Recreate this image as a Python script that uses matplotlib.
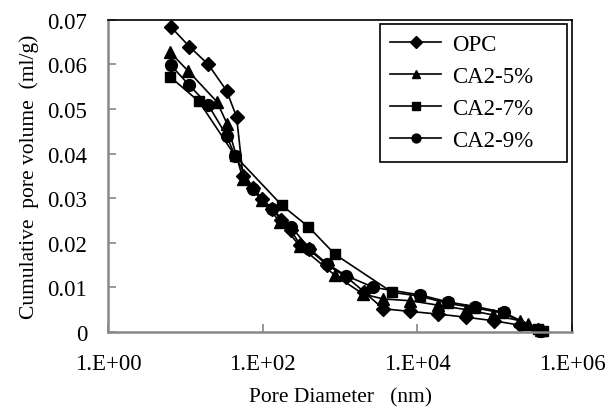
import math
import matplotlib
matplotlib.use("Agg")
import matplotlib.pyplot as plt
from matplotlib.ticker import FuncFormatter, FixedLocator, NullLocator

# pore diameter (nm) and cumulative pore volume (ml/g)
opc_d = [6.45, 11.3, 19.8, 34.2, 46, 55.7, 75.9, 98, 131, 173, 233, 304, 397,
         680, 1200, 2040, 3600, 8000, 18500, 42600, 97000, 213000, 360000]
opc_v = [0.0685, 0.0640, 0.0600, 0.0541, 0.0482, 0.0350, 0.0322, 0.0298, 0.0276,
         0.0252, 0.0228, 0.0195, 0.0185, 0.0150, 0.0124, 0.0090, 0.0052, 0.0046,
         0.0040, 0.0033, 0.0025, 0.0015, 0.0005]

ca5_d = [6.3, 10.8, 25.7, 34.6, 55.7, 98, 167, 304, 860, 1990, 3600, 8045,
         18500, 42600, 95000, 213000, 270000, 390000]
ca5_v = [0.0628, 0.0586, 0.0516, 0.0467, 0.0343, 0.0295, 0.0247, 0.0192, 0.0127,
         0.0085, 0.0074, 0.0070, 0.0060, 0.0050, 0.0038, 0.0025, 0.0018, 0.0005]

ca7_d = [6.3, 15, 44, 177, 390, 860, 4700, 10800, 24900, 55700, 128000,
         360000, 420000]
ca7_v = [0.0573, 0.0517, 0.0395, 0.0284, 0.0236, 0.0174, 0.0089, 0.0080, 0.0064,
         0.0054, 0.0042, 0.0007, 0.0001]

ca9_d = [6.45, 11.3, 19.8, 34.2, 43.9, 75.9, 131, 233, 402, 675, 1205, 2700,
         10830, 25200, 55700, 130000, 390000]
ca9_v = [0.0599, 0.0553, 0.0509, 0.0440, 0.0395, 0.0320, 0.0276, 0.0236, 0.0187,
         0.0153, 0.0126, 0.0100, 0.0083, 0.0067, 0.0057, 0.0044, 0.0003]

labels = ["OPC", "CA2-5%", "CA2-7%", "CA2-9%"]
x_ticks = [1, 1e2, 1e4, 1e6]
y_ticks = [0, 0.01, 0.02, 0.03, 0.04, 0.05, 0.06, 0.07]

plt.rcParams['font.family'] = ['Liberation Serif', 'DejaVu Serif']
plt.rcParams['font.size'] = 16.5

fig = plt.figure(figsize=(6.1, 4.1), dpi=100)
ax = fig.add_axes([0.177, 0.188, 0.761, 0.761])

series = [(opc_d, opc_v, 'D', 7.5), (ca5_d, ca5_v, '^', 8.5),
          (ca7_d, ca7_v, 's', 7.5), (ca9_d, ca9_v, 'o', 8.5)]
for (d, v, m, ms), lab in zip(series, labels):
    ax.plot(d, v, color='black', linewidth=1.2, marker=m, markersize=ms,
            label=lab, clip_on=False)

ax.set_xscale('log')
ax.set_xlim(1, 1e6)
ax.set_ylim(0, 0.07)
ax.xaxis.set_major_locator(FixedLocator(x_ticks))
ax.xaxis.set_minor_locator(NullLocator())
ax.xaxis.set_major_formatter(FuncFormatter(lambda v, p: "1.E+%02d" % round(math.log10(v))))
ax.yaxis.set_major_locator(FixedLocator(y_ticks))
ax.yaxis.set_major_formatter(FuncFormatter(lambda v, p: "0" if v == 0 else "%.2f" % v))

for s in ['left', 'bottom']:
    ax.spines[s].set_color('#888888')
    ax.spines[s].set_linewidth(1.8)
for s in ['top', 'right']:
    ax.spines[s].set_color('black')
    ax.spines[s].set_linewidth(1.2)
ax.tick_params(direction='in', length=6, width=1.2, color='#888888')
ax.tick_params(axis='x', pad=15)
ax.tick_params(axis='y', pad=15)

ax.set_xlabel("Pore Diameter   (nm)", labelpad=10, fontsize=15.5)
ax.set_ylabel("Cumulative  pore volume  (ml/g)", labelpad=6, fontsize=15.5)

leg = ax.legend(loc='upper left', bbox_to_anchor=(0.586, 0.545, 0.403, 0.442),
                mode='expand', fancybox=False, edgecolor='black', framealpha=1,
                handlelength=2.2, labelspacing=0.48, borderpad=0.45,
                markerscale=0.75, borderaxespad=0, handletextpad=0.5)
leg.get_frame().set_linewidth(1.2)

fig.savefig('out.png', dpi=100)
